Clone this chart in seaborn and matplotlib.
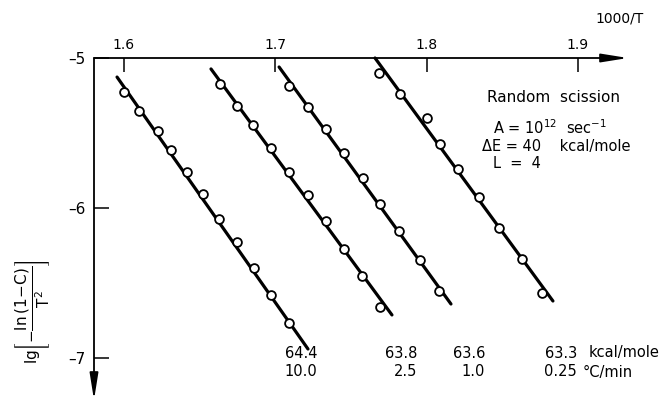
import numpy as np
import pandas as pd
import matplotlib
matplotlib.use("Agg")
import matplotlib.pyplot as plt
import seaborn as sns

# ---------------- data (1000/T , lg[-ln(1-C)/T^2]) ----------------
x_r10 = [1.6000, 1.6099, 1.6225, 1.6311, 1.6416, 1.6522, 1.6628, 1.6747, 1.6859, 1.6972, 1.7091]
y_r10 = [-5.227, -5.353, -5.487, -5.613, -5.760, -5.907, -6.073, -6.227, -6.400, -6.580, -6.767]

x_r25 = [1.6635, 1.6747, 1.6853, 1.6972, 1.7091, 1.7216, 1.7335, 1.7454, 1.7573, 1.7692]
y_r25 = [-5.173, -5.320, -5.447, -5.600, -5.760, -5.913, -6.087, -6.273, -6.453, -6.660]

x_r1 = [1.7091, 1.7216, 1.7335, 1.7454, 1.7580, 1.7692, 1.7818, 1.7956, 1.8082]
y_r1 = [-5.187, -5.327, -5.473, -5.633, -5.800, -5.973, -6.153, -6.347, -6.553]

x_r025 = [1.7685, 1.7824, 1.8003, 1.8089, 1.8208, 1.8346, 1.8479, 1.8631, 1.8763]
y_r025 = [-5.100, -5.240, -5.400, -5.573, -5.740, -5.927, -6.133, -6.340, -6.567]

# fitted straight lines (end points)
fit_x = {"10.0": [1.5954, 1.7216], "2.5": [1.6575, 1.7771],
         "1.0": [1.7025, 1.8161], "0.25": [1.7659, 1.8835]}
fit_y = {"10.0": [-5.127, -6.940], "2.5": [-5.073, -6.713],
         "1.0": [-5.060, -6.640], "0.25": [-5.000, -6.620]}

rates = ["10.0", "2.5", "1.0", "0.25"]
energies = ["64.4", "63.8", "63.6", "63.3"]

x_ticks = [1.6, 1.7, 1.8, 1.9]
x_ticklabels = ["1.6", "1.7", "1.8", "1.9"]
y_ticks = [-5, -6, -7]
y_ticklabels = ["–5", "–6", "–7"]

# ---------------- tables ----------------
pts = pd.concat([
    pd.DataFrame({"x": x_r10, "y": y_r10, "rate": "10.0"}),
    pd.DataFrame({"x": x_r25, "y": y_r25, "rate": "2.5"}),
    pd.DataFrame({"x": x_r1, "y": y_r1, "rate": "1.0"}),
    pd.DataFrame({"x": x_r025, "y": y_r025, "rate": "0.25"}),
], ignore_index=True)
lines = pd.concat([pd.DataFrame({"x": fit_x[r], "y": fit_y[r], "rate": r}) for r in rates],
                  ignore_index=True)

# ---------------- figure ----------------
sns.set_theme(style="white")
plt.rcParams["font.family"] = ["DejaVu Sans"]
plt.rcParams["axes.unicode_minus"] = False
plt.rcParams["text.color"] = "black"
plt.rcParams["xtick.color"] = "black"
plt.rcParams["ytick.color"] = "black"

fig = plt.figure(figsize=(6.68, 4.04), dpi=100)
ax = fig.add_axes([0, 0, 1, 1])

# pixel -> data helpers for the layout (x: 1.6 at px124, 0.1 per 151.3px; y: -5 at px58, 1 per 150px)
def dx(px):
    return 1.6 + (px - 124) / 1513.0

def dy(py):
    return -5 - (py - 58) / 150.0

ax.set_xlim(dx(0), dx(668))
ax.set_ylim(dy(404), dy(0))

x0 = dx(94)  # position of the vertical axis

sns.lineplot(data=lines, x="x", y="y", units="rate", estimator=None, color="black",
             linewidth=2.3, ax=ax, legend=False, zorder=2)
sns.scatterplot(data=pts, x="x", y="y", marker="o", s=40, facecolor="white",
                edgecolor="black", linewidth=1.3, ax=ax, legend=False, zorder=3)

# axes as arrows
for s in ["left", "right", "bottom", "top"]:
    ax.spines[s].set_visible(False)
ax.spines["left"].set_position(("data", x0))
ax.spines["top"].set_position(("data", -5))
arrow_style = "-|>,head_length=1.0,head_width=0.16"
ax.annotate("", xy=(dx(628), -5), xytext=(x0, -5),
            arrowprops=dict(arrowstyle=arrow_style, color="black", lw=1.3,
                            mutation_scale=16, shrinkA=0, shrinkB=0))
ax.annotate("", xy=(x0, dy(400)), xytext=(x0, -5),
            arrowprops=dict(arrowstyle=arrow_style, color="black", lw=1.3,
                            mutation_scale=16, shrinkA=0, shrinkB=0))

ax.xaxis.set_ticks_position("top")
ax.yaxis.set_ticks_position("left")
ax.set_xticks(x_ticks, x_ticklabels)
ax.set_yticks(y_ticks, y_ticklabels)
ax.tick_params(axis="x", direction="in", length=10, width=1.1, pad=4, labelsize=10)
ax.tick_params(axis="y", direction="in", length=11, width=1.1, pad=6, labelsize=11)
ax.set_xlabel("")
ax.set_ylabel("")

# axis titles
ax.text(dx(620), dy(18), "1000/T", ha="center", va="center", fontsize=10)
ax.text(dx(33), dy(312),
        r"$\mathrm{lg}\left[-\dfrac{\mathrm{ln}\,(1\!-\!\mathrm{C})}{\mathrm{T}^{2}}\right]$",
        rotation=90, ha="center", va="center", fontsize=11)

# model parameters
ax.text(dx(487), dy(98), "Random  scission", ha="left", va="center", fontsize=11)
ax.text(dx(493), dy(128), r"A = 10$^{12}$  sec$^{-1}$", ha="left", va="center", fontsize=10.5)
ax.text(dx(482), dy(146), "ΔE = 40    kcal/mole", ha="left", va="center", fontsize=10.5)
ax.text(dx(493), dy(163), "L  =  4", ha="left", va="center", fontsize=10.5)

# activation energies and heating rates under each line
right_edges = [317, 417, 485, 577]
for e, r, px in zip(energies, rates, right_edges):
    ax.text(dx(px), dy(353), e, ha="right", va="center", fontsize=10.5)
    ax.text(dx(px), dy(372), r, ha="right", va="center", fontsize=10.5)
ax.text(dx(589), dy(353), "kcal/mole", ha="left", va="center", fontsize=10.5)
ax.text(dx(583), dy(372), "°C/min", ha="left", va="center", fontsize=10.5)

fig.savefig("out.png", dpi=100)
